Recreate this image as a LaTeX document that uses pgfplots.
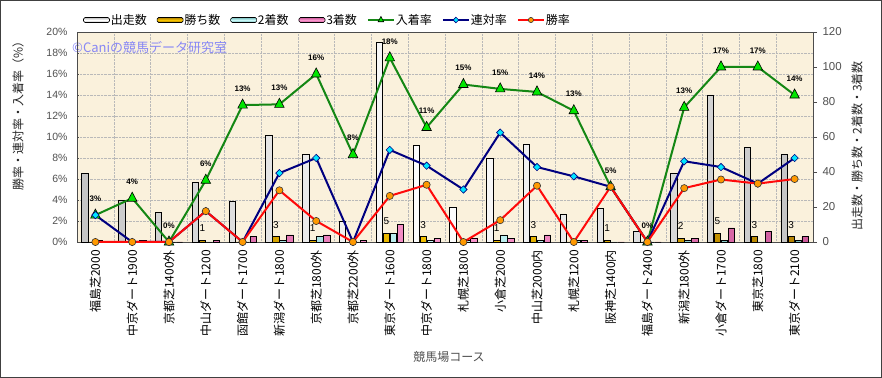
\documentclass[border=0pt]{standalone}
\usepackage{pgfplots}
\pgfplotsset{compat=1.18}
\usepackage{pgfplotstable}
\usepackage{fontspec}
\setmainfont{Liberation Sans}
\newfontfamily\jp{Noto Sans CJK JP}
\definecolor{bgc}{RGB}{250,241,220}
\definecolor{gline}{RGB}{20,135,20}
\definecolor{gfill}{RGB}{0,230,0}
\definecolor{bline}{RGB}{0,0,128}
\definecolor{bfill}{RGB}{0,230,255}
\definecolor{rline}{RGB}{255,10,10}
\definecolor{rfill}{RGB}{255,153,0}
\definecolor{gold}{RGB}{245,195,0}
\definecolor{golde}{RGB}{180,130,0}
\definecolor{cy}{RGB}{200,248,248}
\definecolor{cye}{RGB}{120,190,190}
\definecolor{pk}{RGB}{250,150,205}
\definecolor{pke}{RGB}{205,90,155}
\definecolor{tickc}{RGB}{80,80,80}
\pgfplotstableread{
x s w p2 p3 wr rr nr gl
0 39 0 1 0 0 2.56 2.56 3
1 24 0 0 1 0 0 4.17 4
2 17 0 0 0 0 0 0 0
3 34 1 0 1 2.94 2.94 5.88 6
4 23 0 0 3 0 0 13.04 13
5 61 3 1 4 4.92 6.56 13.11 13
6 50 1 3 4 2.00 8.00 16.00 16
7 12 0 0 1 0 0 8.33 8
8 114 5 5 10 4.39 8.77 17.54 18
9 55 3 1 2 5.45 7.27 10.91 11
10 20 0 1 2 0 5.00 15.00 15
11 48 1 4 2 2.08 10.42 14.58 15
12 56 3 1 4 5.36 7.14 14.29 14
13 16 0 1 1 0 6.25 12.50 13
14 19 1 0 0 5.26 5.26 5.26 5
15 6 0 0 0 0 0 0 0
16 39 2 1 2 5.13 7.69 12.82 13
17 84 5 1 8 5.95 7.14 16.67 17
18 54 3 0 6 5.56 5.56 16.67 17
19 50 3 1 3 6.00 8.00 14.00 14
}\data
\begin{document}
\begin{tikzpicture}
\useasboundingbox (0,0) rectangle (882bp,378bp);
\begin{axis}[
  at={(77bp,136bp)}, anchor=south west, scale only axis,
  width=736bp, height=210bp,
  xmin=-0.5, xmax=19.5, ymin=0, ymax=120,
  ybar=0.6bp, bar width=6.4bp,
  axis background/.style={fill=bgc},
  axis line style={draw=gray!60!black, line width=0.8bp},
  xtick={0,...,19},
  xticklabels={福島芝2000,中京ダート1900,京都芝1400外,中山ダート1200,函館ダート1700,新潟ダート1800,京都芝1800外,京都芝2200外,東京ダート1600,中京ダート1800,札幌芝1800,小倉芝2000,中山芝2000内,札幌芝1200,阪神芝1400内,福島ダート2400,新潟芝1800外,小倉ダート1700,東京芝1800,東京ダート2100},
  xticklabel style={font=\jp\fontsize{12bp}{12bp}\selectfont, rotate=90, anchor=east, inner sep=0pt, text=black},
  xticklabel shift=4bp,
  x tick style={draw=none},
  minor x tick num=1,
  xminorgrids=true,
  minor x tick style={draw=none},
  ytick={0,20,...,120},
  ytick pos=right,
  yticklabel pos=right,
  tick align=outside,
  y tick style={draw=gray!60!black, line width=0.8bp},
  major tick length=4bp,
  yticklabel style={font=\fontsize{11.5bp}{12bp}\selectfont, text=tickc, xshift=2bp},
  minor ytick={12,24,...,108},
  yminorgrids=true,
  minor y tick style={draw=none},
  minor grid style={gray!55, densely dotted, line width=0.5bp},
  /pgf/number format/assume math mode=true,
  clip=false,
]
\addplot[draw=black, line width=0.6bp, left color=gray!45, right color=gray!45, middle color=white] table[x=x,y=s]{\data};
\addplot[draw=black, line width=0.6bp, left color=golde, right color=golde, middle color=gold,
  point meta=explicit symbolic,
  nodes near coords={\ifnum\pgfplotspointmeta>0 \pgfplotspointmeta\fi},
  nodes near coords style={font=\fontsize{10bp}{10bp}\selectfont, anchor=center, yshift=12bp, inner sep=0pt, text=black}] table[x=x,y=w,meta=w]{\data};
\addplot[draw=black, line width=0.6bp, left color=cye, right color=cye, middle color=cy] table[x=x,y=p2]{\data};
\addplot[draw=black, line width=0.6bp, left color=pke, right color=pke, middle color=pk] table[x=x,y=p3]{\data};
\end{axis}
\node[anchor=west, text={rgb,255:red,135;green,135;blue,245}, font=\jp\fontsize{13bp}{13bp}\selectfont, inner sep=0pt] at (72bp,330bp) {©Caniの競馬データ研究室};
\begin{axis}[
  at={(77bp,136bp)}, anchor=south west, scale only axis,
  width=736bp, height=210bp,
  xmin=-0.5, xmax=19.5, ymin=0, ymax=20,
  hide x axis, axis y line*=left,
  axis line style={draw=gray!60!black, line width=0.8bp},
  ytick={0,2,...,20},
  yticklabel={\pgfmathprintnumber{\tick}\%},
  yticklabel style={font=\fontsize{10.5bp}{11bp}\selectfont, text=tickc, xshift=-6bp},
  y tick style={draw=gray!60!black},
  major tick length=2bp, tick align=inside,
  /pgf/number format/assume math mode=true,
  clip=false,
  legend style={at={(0,1)}, anchor=west, xshift=6bp, yshift=12bp, draw=none, fill=none, inner sep=0pt,
    font=\jp\fontsize{12bp}{12bp}\selectfont, legend columns=-1,
    /tikz/every even column/.append style={column sep=9bp}, nodes={inner sep=1bp}},
  legend image code/.code={\draw[mark repeat=2,mark phase=2,#1] plot coordinates {(0bp,0bp) (13bp,0bp) (26bp,0bp)};},
]
\addlegendimage{legend image code/.code={\draw[black, line width=0.6bp, top color=gray!50, bottom color=gray!50, middle color=white, rounded corners=1.5bp] (0bp,-2.5bp) rectangle (26bp,2.5bp);}}
\addlegendentry{出走数}
\addlegendimage{legend image code/.code={\draw[black, line width=0.6bp, top color=golde, bottom color=golde, middle color=gold, rounded corners=1.5bp] (0bp,-2.5bp) rectangle (26bp,2.5bp);}}
\addlegendentry{勝ち数}
\addlegendimage{legend image code/.code={\draw[black, line width=0.6bp, top color=cye, bottom color=cye, middle color=cy, rounded corners=1.5bp] (0bp,-2.5bp) rectangle (26bp,2.5bp);}}
\addlegendentry{2着数}
\addlegendimage{legend image code/.code={\draw[black, line width=0.6bp, top color=pke, bottom color=pke, middle color=pk, rounded corners=1.5bp] (0bp,-2.5bp) rectangle (26bp,2.5bp);}}
\addlegendentry{3着数}
\addplot[gline, line width=2bp, mark=triangle*, mark size=5.5bp,
  mark options={fill=gfill, draw=black, line width=0.6bp, yscale=1.1},
  legend image post style={mark size=3.2bp},
  point meta=explicit symbolic,
  nodes near coords={\pgfplotspointmeta\%},
  nodes near coords style={font=\bfseries\fontsize{8bp}{8bp}\selectfont, anchor=center, yshift=16.5bp, inner sep=0pt, text=black}]
  table[x=x,y=nr,meta=gl]{\data};
\addlegendentry{入着率}
\addplot[bline, line width=2bp, mark=square*, mark size=2.6bp,
  mark options={rotate=45, fill=bfill, draw=bline, line width=0.6bp},
  legend image post style={mark size=2bp}]
  table[x=x,y=rr]{\data};
\addlegendentry{連対率}
\addplot[rline, line width=2bp, mark=*, mark size=3.6bp,
  mark options={fill=rfill, draw=black!80, line width=0.6bp},
  legend image post style={mark size=2.6bp}]
  table[x=x,y=wr]{\data};
\addlegendentry{勝率}
\end{axis}
\node[rotate=90, font=\jp\fontsize{12bp}{12bp}\selectfont, text=black!85] at (18bp,265bp) {勝率・連対率・入着率（\%）};
\node[rotate=90, font=\jp\fontsize{12bp}{12bp}\selectfont, text=black!85] at (857bp,232bp) {出走数・勝ち数・2着数・3着数};
\node[font=\jp\fontsize{12bp}{12bp}\selectfont, text=tickc] at (449bp,21bp) {競馬場コース};
\draw[gray!50!black, line width=1.2bp] (0.6bp,0.6bp) rectangle (881.4bp,377.4bp);
\end{tikzpicture}
\end{document}
